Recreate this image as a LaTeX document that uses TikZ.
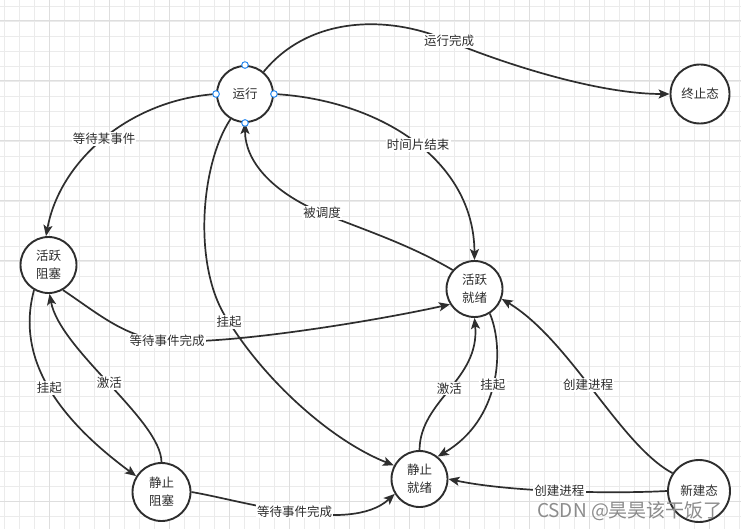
\documentclass[tikz,border=0pt]{standalone}
\usepackage{fontspec}
\newfontfamily\cjk{Noto Sans CJK SC}
\usetikzlibrary{arrows.meta}
\definecolor{ink}{HTML}{2E2E2E}
\definecolor{gridminor}{HTML}{EBEBEB}
\definecolor{gridmajor}{HTML}{DEDEDE}
\definecolor{handleblue}{HTML}{2D8CF0}
\begin{document}
\begin{tikzpicture}[x=1pt,y=-1pt,
  state/.style={circle, draw=ink, line width=1.9pt, fill=white, minimum size=56pt,
    inner sep=0pt, align=center, text=ink, font=\cjk\fontsize{12.5}{18}\selectfont},
  bigstate/.style={state, minimum size=60pt},
  edge/.style={draw=ink, line width=1.7pt, -{Stealth[length=11pt,width=9pt,inset=2.5pt]}},
  lbl/.style={fill=white, inner sep=1.2pt, text=ink, font=\cjk\fontsize{12.5}{15}\selectfont},
  minorline/.style={draw=gridminor, line width=0.9pt},
  majorline/.style={draw=gridmajor, line width=1pt},
  handle/.style={draw=handleblue, fill=white, line width=1pt}
]
\useasboundingbox (0,0) rectangle (741,529);
\fill[white] (0,0) rectangle (741,529);
% grid
\foreach \x in {4,19,...,739} \draw[minorline] (\x,0) -- (\x,529);
\foreach \y in {6,21,...,528} \draw[minorline] (0,\y) -- (741,\y);
\foreach \x in {49,109,...,739} \draw[majorline] (\x,0) -- (\x,529);
\foreach \y in {21,81,...,528} \draw[majorline] (0,\y) -- (741,\y);

% states
\node[state] (run) at (245,94) {运行};
\node[bigstate, minimum size=59pt] (zhong) at (700,94) {终止态};
\node[state] (actblk) at (48.5,265) {活跃\\阻塞};
\node[state] (actrdy) at (474.5,289) {活跃\\就绪};
\node[state, minimum size=58pt] (stablk) at (161.5,492) {静止\\阻塞};
\node[state] (stardy) at (419.5,479) {静止\\就绪};
\node[bigstate, minimum size=62pt] (new) at (699,491) {新建态};

% edges
\draw[edge] (run.50) .. controls (310,15) and (390,15) .. (449,41) node[lbl]{运行完成}
  .. controls (510,66) and (600,94) .. (zhong.west);
\draw[edge] (run.west) .. controls (130,100) and (60,160) .. node[lbl]{等待某事件} (actblk.95);
\draw[edge] (run.east) .. controls (380,100) and (474,160) .. node[lbl, pos=0.52]{时间片结束} (actrdy.north);
\draw[edge] (actrdy.139) .. controls (410,245) and (370,232) .. (322,213) node[lbl]{被调度}
  .. controls (270,191) and (245,160) .. (run.south);
\draw[edge] (run.240) .. controls (200,165) and (192,270) .. (229,322) node[lbl]{挂起}
  .. controls (265,380) and (330,440) .. (stardy.152);
\draw[edge] (actblk.-60) .. controls (100,315) and (126,338) .. (167,341) node[lbl]{等待事件完成}
  .. controls (230,345) and (380,320) .. (actrdy.212);
\draw[edge] (actblk.240) .. controls (15,360) and (60,420) .. node[lbl]{挂起} (stablk.148);
\draw[edge] (stablk.north) .. controls (161,420) and (60,350) .. node[lbl]{激活} (actblk.272);
\draw[edge] (stablk.east) .. controls (240,500) and (350,535) .. node[lbl]{等待事件完成} (stardy.211);
\draw[edge] (stardy.north) .. controls (420,400) and (480,380) .. node[lbl]{激活} (actrdy.south);
\draw[edge] (actrdy.-58) .. controls (505,350) and (500,420) .. node[lbl]{挂起} (stardy.51);
\draw[edge] (new.146) .. controls (620,445) and (570,340) .. node[lbl, pos=0.53]{创建进程} (actrdy.-20);
\draw[edge] (new.west) .. controls (610,494) and (510,492) .. node[lbl]{创建进程} (stardy.east);

% selection handles on the running state
\draw[handle] (run.north) circle (3.3pt);
\draw[handle] (run.west) circle (3.3pt);
\draw[handle] (run.east) circle (3.3pt);
\draw[handle] (run.south) circle (3.3pt);

% watermark
\node[text=black!45, font=\cjk\fontsize{19}{22}\selectfont, inner sep=0pt] (wm) at (630,511) {CSDN @昊昊该干饭了};
\end{tikzpicture}
\end{document}
